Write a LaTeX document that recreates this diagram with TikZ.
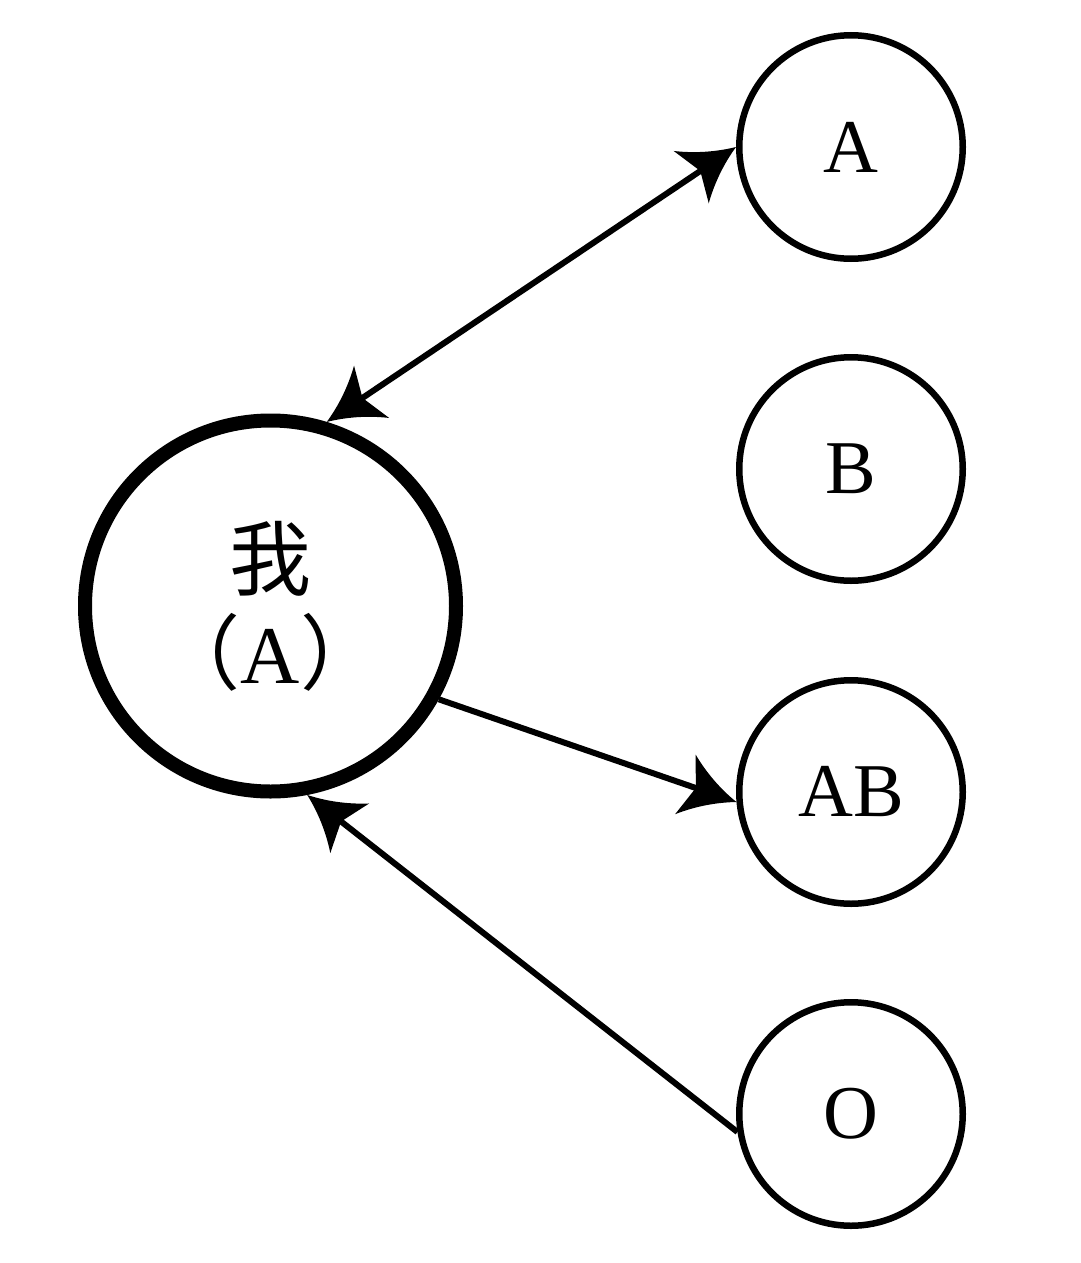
\documentclass[tikz,border=0pt]{standalone}
\usepackage{fontspec}
\setmainfont{Liberation Serif}
\newfontfamily\cjk{Noto Sans CJK SC}
\usetikzlibrary{arrows.meta}
\pgfdeclarearrow{
  name=CurvedStealth,
  setup code={
    \pgfarrowssettipend{0pt}
    \pgfarrowssetbackend{-54pt}
    \pgfarrowssetlineend{-38pt}
    \pgfarrowshullpoint{0pt}{0pt}
    \pgfarrowshullpoint{-54pt}{31.5pt}
    \pgfarrowshullpoint{-54pt}{-31.5pt}
  },
  drawing code={
    \pgfpathmoveto{\pgfpoint{0pt}{0pt}}
    \pgfpathcurveto{\pgfpoint{-18pt}{6.5pt}}{\pgfpoint{-37pt}{17pt}}{\pgfpoint{-54pt}{31.5pt}}
    \pgfpathlineto{\pgfpoint{-43pt}{0pt}}
    \pgfpathlineto{\pgfpoint{-54pt}{-31.5pt}}
    \pgfpathcurveto{\pgfpoint{-37pt}{-17pt}}{\pgfpoint{-18pt}{-6.5pt}}{\pgfpoint{0pt}{0pt}}
    \pgfpathclose
    \pgfusepathqfill
  },
}
\begin{document}
\begin{tikzpicture}[x=1pt,y=-1pt,
  small/.style={circle,draw,line width=6.5pt,minimum size=223.5pt,inner sep=0pt,font=\fontsize{76}{80}\selectfont},
  big/.style={circle,draw,line width=14pt,minimum size=371pt,inner sep=0pt,align=center,font=\fontsize{82}{102}\selectfont},
  conn/.style={line width=6pt,-CurvedStealth},
  dconn/.style={line width=6pt,CurvedStealth-CurvedStealth},
]
\useasboundingbox (0,0) rectangle (1080,1263);
\node[big] (me) at (270.5,606) {{\cjk 我}\\[-8pt]{\cjk （}A{\cjk ）}};
\node[small] (A) at (851,147) {A};
\node[small] (B) at (851,469) {B};
\node[small] (AB) at (851,792) {AB};
\node[small] (O) at (851,1114) {O};
\draw[dconn] (me.73.9) -- (A.180);
\draw[conn] (me.-29.4) -- (AB.185.4);
\draw[conn] (O.189.5) -- (me.-79.3);
\end{tikzpicture}
\end{document}
